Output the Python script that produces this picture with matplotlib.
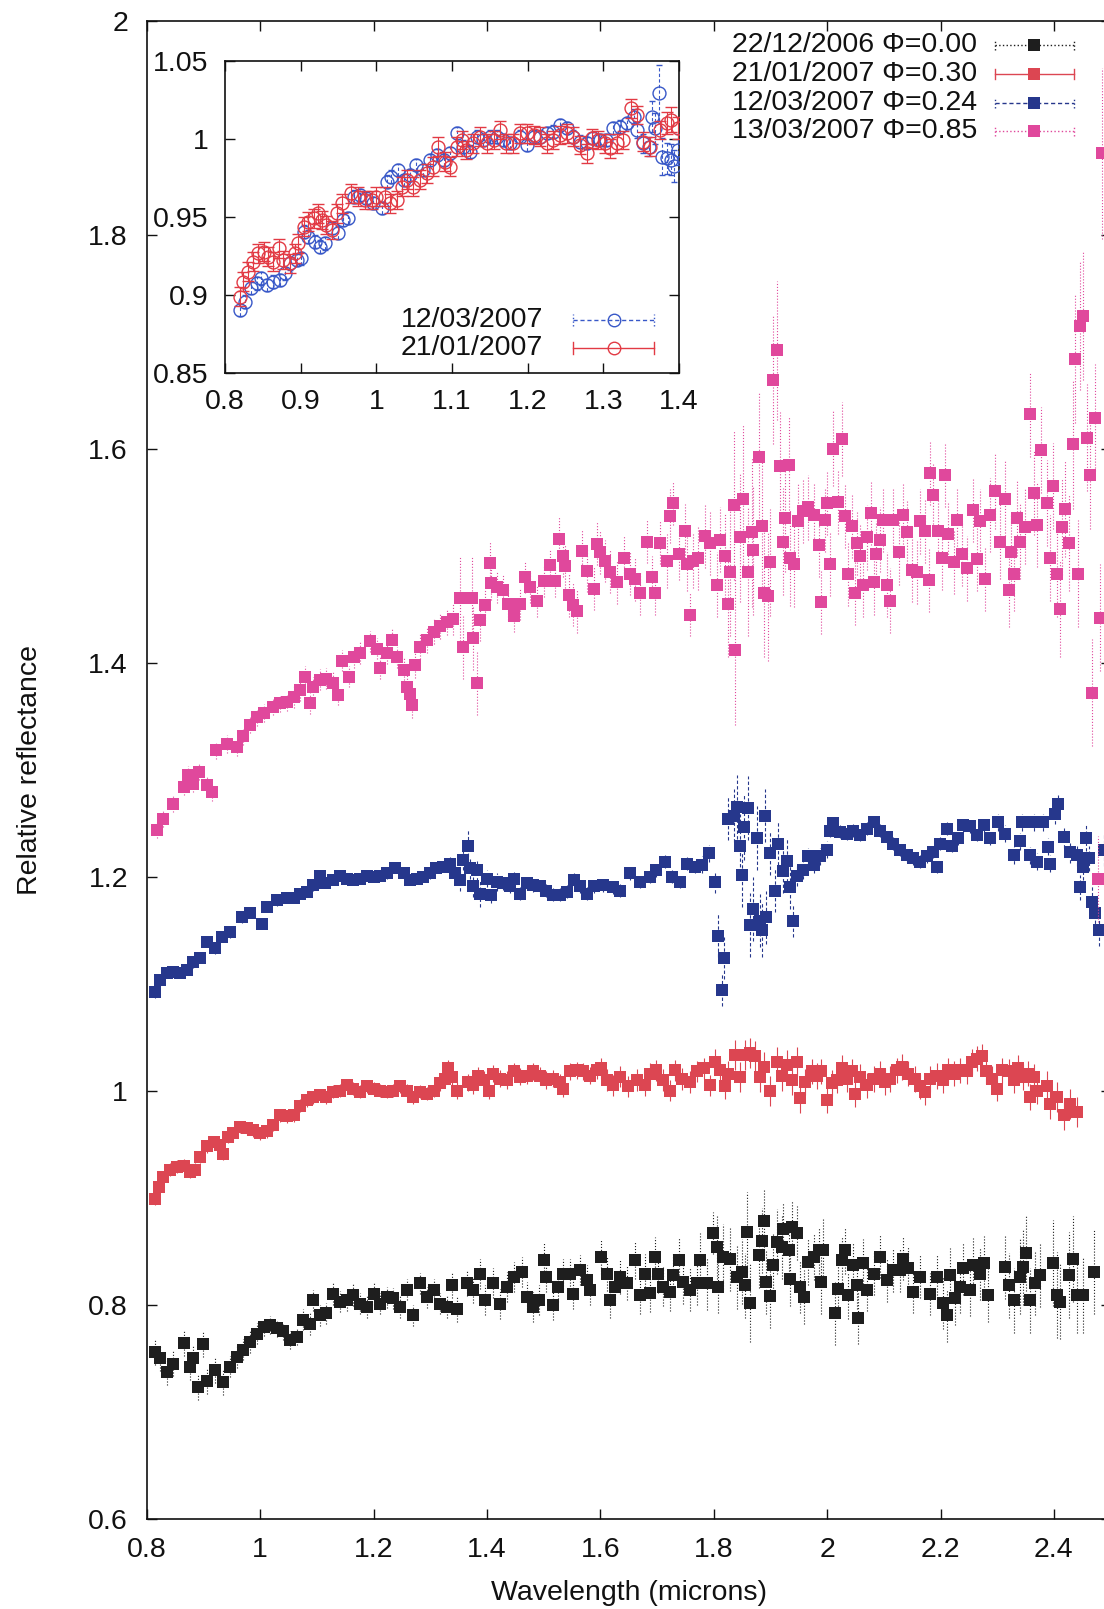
import numpy as np
import matplotlib
matplotlib.use("Agg")
import matplotlib.pyplot as plt
from matplotlib.ticker import FormatStrFormatter

plt.rcParams['font.family'] = ['Liberation Sans', 'DejaVu Sans']

# === DATI (wavelength, reflectance, error) ===

black_pts = [
    (0.814, 0.756, 0.012), (0.823, 0.750, 0.012), (0.835, 0.737, 0.012), (0.847, 0.745, 0.012),
    (0.865, 0.764, 0.012), (0.876, 0.742, 0.012), (0.882, 0.750, 0.012), (0.891, 0.723, 0.012),
    (0.900, 0.763, 0.012), (0.906, 0.729, 0.012), (0.920, 0.739, 0.012), (0.935, 0.728, 0.012),
    (0.947, 0.742, 0.010), (0.959, 0.751, 0.010), (0.970, 0.758, 0.010), (0.982, 0.765, 0.010),
    (0.994, 0.773, 0.010), (1.006, 0.779, 0.008), (1.017, 0.781, 0.008), (1.029, 0.778, 0.008),
    (1.041, 0.775, 0.008), (1.053, 0.767, 0.008), (1.065, 0.770, 0.008), (1.076, 0.786, 0.010),
    (1.088, 0.782, 0.010), (1.094, 0.804, 0.010), (1.106, 0.790, 0.010), (1.117, 0.792, 0.010),
    (1.129, 0.810, 0.010), (1.141, 0.803, 0.010), (1.153, 0.804, 0.010), (1.164, 0.809, 0.010),
    (1.176, 0.801, 0.010), (1.188, 0.798, 0.010), (1.200, 0.810, 0.010), (1.211, 0.801, 0.010),
    (1.223, 0.807, 0.010), (1.235, 0.806, 0.010), (1.247, 0.798, 0.010), (1.259, 0.814, 0.010),
    (1.270, 0.790, 0.010), (1.282, 0.820, 0.010), (1.294, 0.807, 0.010), (1.306, 0.814, 0.010),
    (1.317, 0.801, 0.010), (1.329, 0.798, 0.010), (1.338, 0.818, 0.012), (1.347, 0.796, 0.012),
    (1.364, 0.820, 0.012), (1.376, 0.814, 0.012), (1.388, 0.829, 0.014), (1.397, 0.804, 0.014),
    (1.411, 0.820, 0.014), (1.423, 0.801, 0.014), (1.435, 0.817, 0.014), (1.447, 0.826, 0.014),
    (1.461, 0.831, 0.014), (1.470, 0.807, 0.014), (1.482, 0.798, 0.014), (1.491, 0.804, 0.014),
    (1.500, 0.842, 0.016), (1.505, 0.826, 0.014), (1.517, 0.800, 0.014), (1.526, 0.817, 0.014),
    (1.535, 0.829, 0.014), (1.547, 0.829, 0.014), (1.552, 0.810, 0.014), (1.564, 0.832, 0.014),
    (1.576, 0.823, 0.014), (1.582, 0.814, 0.014),
    (1.602, 0.845, 0.016), (1.611, 0.829, 0.016), (1.617, 0.804, 0.016), (1.626, 0.817, 0.016),
    (1.635, 0.826, 0.016), (1.647, 0.820, 0.016), (1.661, 0.842, 0.018), (1.670, 0.809, 0.018),
    (1.679, 0.829, 0.018), (1.688, 0.811, 0.018), (1.696, 0.845, 0.018), (1.702, 0.829, 0.018),
    (1.711, 0.817, 0.018), (1.723, 0.812, 0.018), (1.729, 0.828, 0.020), (1.738, 0.842, 0.020),
    (1.746, 0.821, 0.020), (1.758, 0.814, 0.020), (1.770, 0.820, 0.020), (1.776, 0.842, 0.025),
    (1.788, 0.820, 0.025), (1.799, 0.867, 0.020), (1.805, 0.854, 0.030), (1.808, 0.817, 0.025),
    (1.817, 0.845, 0.030), (1.829, 0.843, 0.030), (1.841, 0.826, 0.030), (1.849, 0.831, 0.030),
    (1.855, 0.818, 0.030), (1.859, 0.868, 0.037), (1.864, 0.802, 0.037), (1.879, 0.846, 0.030),
    (1.885, 0.860, 0.030), (1.889, 0.878, 0.030), (1.893, 0.821, 0.030), (1.899, 0.808, 0.030),
    (1.905, 0.837, 0.030), (1.911, 0.859, 0.030), (1.920, 0.854, 0.030), (1.923, 0.871, 0.025),
    (1.932, 0.851, 0.025), (1.935, 0.824, 0.025), (1.938, 0.873, 0.025), (1.946, 0.867, 0.025),
    (1.952, 0.817, 0.025), (1.959, 0.807, 0.025), (1.967, 0.840, 0.022), (1.976, 0.845, 0.022),
    (1.985, 0.851, 0.022), (1.990, 0.821, 0.030), (1.993, 0.851, 0.030), (2.014, 0.792, 0.030),
    (2.020, 0.815, 0.025), (2.026, 0.842, 0.022), (2.032, 0.851, 0.022), (2.037, 0.809, 0.022),
    (2.046, 0.837, 0.022), (2.052, 0.818, 0.022), (2.055, 0.788, 0.025), (2.064, 0.839, 0.022),
    (2.070, 0.814, 0.020), (2.082, 0.829, 0.020), (2.093, 0.845, 0.020), (2.105, 0.823, 0.020),
    (2.117, 0.832, 0.020), (2.129, 0.832, 0.020), (2.134, 0.843, 0.020), (2.143, 0.834, 0.020),
    (2.152, 0.812, 0.020), (2.164, 0.826, 0.020), (2.182, 0.810, 0.020), (2.193, 0.826, 0.020),
    (2.205, 0.802, 0.025), (2.211, 0.790, 0.025), (2.217, 0.828, 0.025), (2.226, 0.806, 0.025),
    (2.234, 0.817, 0.025), (2.240, 0.834, 0.025), (2.252, 0.814, 0.025), (2.258, 0.837, 0.025),
    (2.270, 0.829, 0.025), (2.276, 0.839, 0.025), (2.284, 0.809, 0.025), (2.314, 0.835, 0.030),
    (2.320, 0.818, 0.030), (2.329, 0.804, 0.030), (2.340, 0.826, 0.035), (2.346, 0.835, 0.035),
    (2.351, 0.848, 0.035), (2.358, 0.804, 0.030), (2.367, 0.820, 0.030), (2.376, 0.828, 0.030),
    (2.399, 0.839, 0.040), (2.405, 0.809, 0.040), (2.411, 0.803, 0.035), (2.426, 0.828, 0.040),
    (2.434, 0.843, 0.040), (2.440, 0.809, 0.035), (2.452, 0.809, 0.035), (2.470, 0.831, 0.040),
]

red_pts = [
    (0.815, 0.899, 0.006), (0.821, 0.910, 0.006), (0.829, 0.919, 0.006), (0.841, 0.926, 0.006),
    (0.853, 0.929, 0.006), (0.865, 0.930, 0.006), (0.876, 0.924, 0.006), (0.885, 0.926, 0.006),
    (0.894, 0.938, 0.006), (0.906, 0.948, 0.006), (0.918, 0.952, 0.006), (0.929, 0.949, 0.006),
    (0.935, 0.941, 0.006), (0.944, 0.957, 0.006), (0.953, 0.960, 0.006), (0.965, 0.966, 0.006),
    (0.976, 0.965, 0.006), (0.988, 0.963, 0.006), (1.000, 0.960, 0.006), (1.012, 0.962, 0.006),
    (1.023, 0.968, 0.006), (1.035, 0.977, 0.006), (1.047, 0.976, 0.006), (1.059, 0.977, 0.006),
    (1.070, 0.986, 0.006), (1.082, 0.991, 0.006), (1.094, 0.994, 0.006), (1.106, 0.996, 0.006),
    (1.117, 0.994, 0.006), (1.129, 0.999, 0.006), (1.141, 1.000, 0.006), (1.153, 1.005, 0.006),
    (1.164, 1.002, 0.006), (1.176, 0.999, 0.006), (1.188, 1.004, 0.006), (1.200, 1.002, 0.006),
    (1.211, 1.000, 0.006), (1.223, 0.999, 0.006), (1.235, 1.000, 0.006), (1.247, 1.004, 0.006),
    (1.259, 1.000, 0.006), (1.270, 0.994, 0.006), (1.282, 0.999, 0.006), (1.294, 0.997, 0.006),
    (1.306, 1.000, 0.006), (1.317, 1.007, 0.007), (1.326, 1.011, 0.007), (1.332, 1.021, 0.008),
    (1.338, 1.013, 0.008), (1.347, 1.000, 0.008), (1.367, 1.008, 0.008), (1.376, 1.005, 0.008),
    (1.385, 1.014, 0.008), (1.394, 1.010, 0.008), (1.403, 1.000, 0.008), (1.411, 1.016, 0.008),
    (1.423, 1.011, 0.008), (1.435, 1.010, 0.008), (1.447, 1.018, 0.008), (1.458, 1.013, 0.008),
    (1.470, 1.014, 0.008), (1.482, 1.018, 0.008), (1.494, 1.014, 0.008), (1.505, 1.010, 0.008),
    (1.517, 1.011, 0.008), (1.529, 1.008, 0.008), (1.535, 1.002, 0.008), (1.547, 1.018, 0.008),
    (1.558, 1.019, 0.008), (1.570, 1.018, 0.008), (1.582, 1.014, 0.008), (1.594, 1.019, 0.008),
    (1.602, 1.021, 0.010), (1.611, 1.010, 0.010), (1.623, 1.005, 0.010), (1.635, 1.013, 0.010),
    (1.649, 1.004, 0.010), (1.664, 1.010, 0.010), (1.679, 1.005, 0.010), (1.688, 1.016, 0.010),
    (1.699, 1.019, 0.010), (1.711, 1.010, 0.010), (1.723, 1.000, 0.010), (1.732, 1.019, 0.010),
    (1.744, 1.011, 0.010), (1.758, 1.008, 0.010), (1.770, 1.018, 0.010), (1.782, 1.021, 0.010),
    (1.794, 1.005, 0.010), (1.802, 1.027, 0.012), (1.811, 1.019, 0.012), (1.820, 1.004, 0.012),
    (1.826, 1.016, 0.012), (1.838, 1.033, 0.014), (1.846, 1.013, 0.014), (1.855, 1.033, 0.014),
    (1.864, 1.035, 0.014), (1.873, 1.032, 0.014), (1.882, 1.013, 0.014), (1.888, 1.022, 0.014),
    (1.899, 1.000, 0.014), (1.911, 1.027, 0.014), (1.920, 1.014, 0.014), (1.929, 1.024, 0.014),
    (1.938, 1.010, 0.014), (1.946, 1.027, 0.014), (1.952, 0.993, 0.014), (1.961, 1.008, 0.012),
    (1.973, 1.018, 0.012), (1.982, 1.014, 0.012), (1.990, 1.018, 0.012), (1.999, 0.991, 0.012),
    (2.008, 1.007, 0.012), (2.017, 1.010, 0.012), (2.026, 1.021, 0.012), (2.035, 1.011, 0.012),
    (2.043, 1.018, 0.012), (2.050, 0.997, 0.012), (2.058, 1.013, 0.012), (2.070, 1.005, 0.012),
    (2.082, 1.011, 0.012), (2.093, 1.016, 0.012), (2.102, 1.008, 0.012), (2.111, 1.011, 0.012),
    (2.123, 1.019, 0.012), (2.132, 1.022, 0.012), (2.143, 1.016, 0.012), (2.155, 1.011, 0.012),
    (2.164, 1.004, 0.012), (2.173, 0.999, 0.012), (2.182, 1.011, 0.012), (2.193, 1.014, 0.012),
    (2.205, 1.010, 0.012), (2.214, 1.019, 0.012), (2.223, 1.016, 0.012), (2.234, 1.019, 0.012),
    (2.246, 1.018, 0.012), (2.255, 1.027, 0.012), (2.264, 1.030, 0.012), (2.273, 1.032, 0.012),
    (2.281, 1.018, 0.012), (2.290, 1.011, 0.012), (2.299, 1.002, 0.012), (2.308, 1.019, 0.012),
    (2.320, 1.018, 0.012), (2.329, 1.010, 0.012), (2.337, 1.021, 0.012), (2.346, 1.013, 0.012),
    (2.355, 1.016, 0.012), (2.358, 0.994, 0.012), (2.364, 1.013, 0.012), (2.370, 1.000, 0.012),
    (2.387, 1.004, 0.014), (2.393, 0.988, 0.014), (2.405, 0.994, 0.014), (2.417, 0.977, 0.014),
    (2.429, 0.988, 0.014), (2.440, 0.980, 0.014),
]

blue_pts = [
    (0.815, 1.092, 0.005), (0.823, 1.103, 0.005), (0.835, 1.110, 0.005), (0.847, 1.111, 0.005),
    (0.859, 1.110, 0.005), (0.871, 1.113, 0.005), (0.882, 1.120, 0.005), (0.894, 1.124, 0.005),
    (0.906, 1.139, 0.005), (0.920, 1.133, 0.005), (0.932, 1.144, 0.005), (0.947, 1.148, 0.005),
    (0.968, 1.162, 0.005), (0.982, 1.166, 0.005), (1.003, 1.156, 0.005), (1.012, 1.172, 0.005),
    (1.029, 1.178, 0.005), (1.047, 1.180, 0.005), (1.059, 1.180, 0.005), (1.070, 1.184, 0.005),
    (1.082, 1.186, 0.005), (1.094, 1.192, 0.005), (1.106, 1.201, 0.005), (1.114, 1.194, 0.005),
    (1.129, 1.197, 0.005), (1.141, 1.201, 0.005), (1.153, 1.198, 0.005), (1.164, 1.197, 0.005),
    (1.176, 1.198, 0.005), (1.188, 1.201, 0.005), (1.200, 1.200, 0.005), (1.211, 1.201, 0.005),
    (1.223, 1.203, 0.005), (1.238, 1.208, 0.005), (1.253, 1.203, 0.005), (1.264, 1.197, 0.005),
    (1.276, 1.198, 0.005), (1.288, 1.200, 0.005), (1.300, 1.203, 0.005), (1.311, 1.208, 0.005),
    (1.323, 1.209, 0.005), (1.335, 1.212, 0.006), (1.344, 1.203, 0.008), (1.353, 1.197, 0.010),
    (1.358, 1.216, 0.010), (1.367, 1.229, 0.015), (1.370, 1.208, 0.010), (1.376, 1.191, 0.010),
    (1.382, 1.206, 0.010), (1.388, 1.184, 0.012), (1.400, 1.198, 0.008), (1.408, 1.183, 0.008),
    (1.417, 1.195, 0.008), (1.429, 1.194, 0.006), (1.441, 1.191, 0.006), (1.447, 1.198, 0.006),
    (1.458, 1.184, 0.006), (1.470, 1.194, 0.006), (1.482, 1.192, 0.006), (1.494, 1.191, 0.006),
    (1.505, 1.187, 0.006), (1.517, 1.183, 0.006), (1.529, 1.183, 0.006), (1.541, 1.186, 0.006),
    (1.553, 1.197, 0.006), (1.564, 1.191, 0.006), (1.576, 1.184, 0.006), (1.588, 1.191, 0.006),
    (1.605, 1.192, 0.006), (1.623, 1.190, 0.006), (1.635, 1.187, 0.006), (1.652, 1.203, 0.006),
    (1.670, 1.195, 0.006), (1.688, 1.200, 0.006), (1.699, 1.206, 0.006), (1.714, 1.214, 0.006),
    (1.726, 1.200, 0.006), (1.741, 1.195, 0.006), (1.752, 1.212, 0.006), (1.767, 1.209, 0.006),
    (1.779, 1.211, 0.008), (1.791, 1.222, 0.008), (1.802, 1.195, 0.010), (1.808, 1.145, 0.020),
    (1.814, 1.094, 0.015), (1.818, 1.124, 0.020), (1.826, 1.254, 0.020), (1.835, 1.257, 0.025),
    (1.841, 1.265, 0.030), (1.846, 1.229, 0.030), (1.849, 1.202, 0.030), (1.853, 1.246, 0.030),
    (1.861, 1.264, 0.030), (1.864, 1.155, 0.030), (1.870, 1.170, 0.030), (1.876, 1.236, 0.030),
    (1.882, 1.159, 0.025), (1.885, 1.150, 0.025), (1.891, 1.257, 0.025), (1.893, 1.162, 0.025),
    (1.899, 1.222, 0.020), (1.908, 1.187, 0.020), (1.914, 1.231, 0.020), (1.923, 1.205, 0.020),
    (1.929, 1.215, 0.020), (1.935, 1.190, 0.020), (1.939, 1.159, 0.015), (1.946, 1.201, 0.010),
    (1.958, 1.206, 0.008), (1.967, 1.219, 0.008), (1.976, 1.211, 0.008), (1.987, 1.219, 0.008),
    (1.999, 1.225, 0.008), (2.005, 1.243, 0.006), (2.011, 1.250, 0.006), (2.023, 1.242, 0.006),
    (2.035, 1.240, 0.006), (2.046, 1.243, 0.006), (2.058, 1.239, 0.006), (2.070, 1.245, 0.006),
    (2.082, 1.251, 0.006), (2.093, 1.243, 0.006), (2.105, 1.237, 0.006), (2.117, 1.231, 0.006),
    (2.129, 1.225, 0.006), (2.140, 1.220, 0.006), (2.152, 1.217, 0.006), (2.164, 1.214, 0.006),
    (2.176, 1.219, 0.006), (2.187, 1.223, 0.006), (2.193, 1.209, 0.006), (2.199, 1.231, 0.006),
    (2.211, 1.245, 0.006), (2.220, 1.229, 0.006), (2.231, 1.236, 0.006), (2.240, 1.248, 0.006),
    (2.252, 1.247, 0.006), (2.264, 1.239, 0.006), (2.276, 1.248, 0.006), (2.287, 1.236, 0.006),
    (2.302, 1.251, 0.008), (2.314, 1.240, 0.008), (2.329, 1.220, 0.008), (2.340, 1.233, 0.008),
    (2.343, 1.251, 0.008), (2.358, 1.220, 0.008), (2.364, 1.251, 0.008), (2.370, 1.214, 0.008),
    (2.381, 1.251, 0.008), (2.390, 1.228, 0.008), (2.393, 1.212, 0.008), (2.402, 1.259, 0.010),
    (2.408, 1.268, 0.010), (2.417, 1.237, 0.010), (2.428, 1.223, 0.010), (2.440, 1.220, 0.010),
    (2.446, 1.190, 0.012), (2.452, 1.209, 0.012), (2.457, 1.236, 0.012), (2.461, 1.217, 0.012),
    (2.467, 1.176, 0.015), (2.473, 1.166, 0.015), (2.480, 1.150, 0.015), (2.488, 1.225, 0.015),
]

pink_pts = [
    (0.818, 1.244, 0.008), (0.829, 1.254, 0.008), (0.847, 1.268, 0.008), (0.865, 1.284, 0.008),
    (0.872, 1.295, 0.008), (0.882, 1.287, 0.008), (0.893, 1.298, 0.008), (0.906, 1.286, 0.008),
    (0.915, 1.279, 0.008), (0.923, 1.318, 0.008), (0.941, 1.324, 0.008), (0.959, 1.321, 0.008),
    (0.970, 1.331, 0.008), (0.982, 1.342, 0.008), (0.994, 1.349, 0.008), (1.006, 1.353, 0.008),
    (1.023, 1.359, 0.008), (1.035, 1.362, 0.008), (1.047, 1.363, 0.008), (1.059, 1.368, 0.010),
    (1.070, 1.374, 0.010), (1.079, 1.387, 0.010), (1.088, 1.362, 0.010), (1.094, 1.377, 0.010),
    (1.106, 1.384, 0.010), (1.117, 1.385, 0.010), (1.129, 1.381, 0.010), (1.138, 1.370, 0.010),
    (1.144, 1.402, 0.010), (1.156, 1.387, 0.010), (1.165, 1.405, 0.010), (1.176, 1.409, 0.010),
    (1.194, 1.420, 0.010), (1.206, 1.413, 0.010), (1.212, 1.395, 0.010), (1.223, 1.409, 0.010),
    (1.232, 1.421, 0.010), (1.241, 1.405, 0.010), (1.253, 1.393, 0.012), (1.259, 1.377, 0.012),
    (1.264, 1.371, 0.012), (1.267, 1.360, 0.012), (1.273, 1.398, 0.012), (1.282, 1.415, 0.012),
    (1.294, 1.421, 0.012), (1.306, 1.429, 0.012), (1.317, 1.434, 0.012), (1.329, 1.438, 0.012),
    (1.341, 1.441, 0.015), (1.353, 1.460, 0.040), (1.358, 1.415, 0.030), (1.373, 1.460, 0.040),
    (1.376, 1.423, 0.030), (1.382, 1.381, 0.030), (1.388, 1.440, 0.020), (1.397, 1.454, 0.015),
    (1.405, 1.493, 0.020), (1.408, 1.474, 0.015), (1.417, 1.471, 0.015), (1.429, 1.468, 0.015),
    (1.438, 1.455, 0.015), (1.447, 1.444, 0.015), (1.458, 1.455, 0.015), (1.467, 1.480, 0.015),
    (1.476, 1.471, 0.015), (1.488, 1.458, 0.015), (1.500, 1.476, 0.015), (1.511, 1.491, 0.015),
    (1.520, 1.476, 0.015), (1.527, 1.516, 0.020), (1.534, 1.500, 0.020), (1.538, 1.490, 0.020),
    (1.544, 1.463, 0.020), (1.552, 1.454, 0.020), (1.558, 1.448, 0.020), (1.567, 1.504, 0.020),
    (1.576, 1.486, 0.020), (1.588, 1.469, 0.020), (1.594, 1.511, 0.020),
    (1.600, 1.503, 0.020), (1.608, 1.495, 0.020), (1.617, 1.485, 0.020), (1.629, 1.475, 0.020),
    (1.641, 1.498, 0.020), (1.652, 1.483, 0.020), (1.661, 1.478, 0.020), (1.670, 1.465, 0.020),
    (1.682, 1.513, 0.020), (1.691, 1.480, 0.020), (1.697, 1.465, 0.020), (1.705, 1.512, 0.020),
    (1.717, 1.495, 0.025), (1.723, 1.537, 0.025), (1.729, 1.549, 0.020), (1.738, 1.502, 0.025),
    (1.749, 1.523, 0.025), (1.752, 1.492, 0.025), (1.758, 1.445, 0.020), (1.764, 1.495, 0.025),
    (1.773, 1.498, 0.030), (1.785, 1.518, 0.030), (1.793, 1.512, 0.030), (1.805, 1.473, 0.030),
    (1.811, 1.515, 0.030), (1.820, 1.500, 0.040), (1.826, 1.455, 0.050), (1.829, 1.485, 0.060),
    (1.835, 1.547, 0.070), (1.838, 1.412, 0.070), (1.846, 1.517, 0.060), (1.851, 1.553, 0.070),
    (1.861, 1.485, 0.060), (1.867, 1.522, 0.070), (1.870, 1.505, 0.060), (1.880, 1.592, 0.060),
    (1.885, 1.528, 0.060), (1.888, 1.465, 0.060), (1.896, 1.462, 0.060), (1.900, 1.494, 0.050),
    (1.905, 1.664, 0.060), (1.911, 1.692, 0.065), (1.917, 1.584, 0.050), (1.922, 1.513, 0.050),
    (1.926, 1.535, 0.050), (1.932, 1.585, 0.045), (1.935, 1.498, 0.045), (1.941, 1.492, 0.040),
    (1.949, 1.532, 0.035), (1.958, 1.542, 0.030), (1.967, 1.545, 0.030), (1.976, 1.538, 0.030),
    (1.985, 1.510, 0.030), (1.990, 1.457, 0.030), (1.996, 1.533, 0.030), (1.999, 1.549, 0.030),
    (2.005, 1.492, 0.030), (2.011, 1.600, 0.035), (2.020, 1.550, 0.030), (2.026, 1.609, 0.035),
    (2.032, 1.537, 0.030), (2.037, 1.483, 0.030), (2.043, 1.528, 0.030), (2.049, 1.465, 0.030),
    (2.052, 1.512, 0.030), (2.058, 1.500, 0.030), (2.064, 1.473, 0.030), (2.070, 1.517, 0.030),
    (2.077, 1.540, 0.030), (2.082, 1.475, 0.030), (2.087, 1.502, 0.030), (2.093, 1.515, 0.030),
    (2.099, 1.533, 0.030), (2.105, 1.473, 0.030), (2.111, 1.458, 0.030), (2.117, 1.533, 0.030),
    (2.126, 1.503, 0.030), (2.134, 1.538, 0.030), (2.140, 1.522, 0.030), (2.149, 1.487, 0.030),
    (2.158, 1.485, 0.030), (2.164, 1.532, 0.030), (2.173, 1.523, 0.030), (2.179, 1.477, 0.030),
    (2.182, 1.577, 0.030), (2.187, 1.557, 0.030), (2.196, 1.523, 0.030), (2.202, 1.498, 0.030),
    (2.208, 1.575, 0.030), (2.214, 1.520, 0.030), (2.223, 1.494, 0.030), (2.229, 1.533, 0.030),
    (2.237, 1.502, 0.030), (2.246, 1.488, 0.030), (2.258, 1.543, 0.030), (2.264, 1.497, 0.030),
    (2.270, 1.532, 0.030), (2.278, 1.478, 0.030), (2.287, 1.538, 0.035), (2.296, 1.560, 0.035),
    (2.305, 1.513, 0.035), (2.314, 1.553, 0.035), (2.320, 1.468, 0.035), (2.324, 1.503, 0.035),
    (2.329, 1.483, 0.035), (2.334, 1.535, 0.035), (2.341, 1.513, 0.035), (2.349, 1.527, 0.035),
    (2.358, 1.632, 0.040), (2.364, 1.559, 0.040), (2.370, 1.529, 0.040), (2.378, 1.599, 0.040),
    (2.387, 1.549, 0.040), (2.393, 1.498, 0.040), (2.399, 1.565, 0.040), (2.405, 1.483, 0.040),
    (2.411, 1.450, 0.045), (2.414, 1.527, 0.045), (2.420, 1.544, 0.045), (2.426, 1.512, 0.045),
    (2.433, 1.604, 0.060), (2.437, 1.684, 0.060), (2.443, 1.483, 0.050), (2.446, 1.715, 0.060),
    (2.452, 1.724, 0.060), (2.458, 1.610, 0.050), (2.463, 1.575, 0.050), (2.467, 1.372, 0.050),
    (2.472, 1.629, 0.050), (2.478, 1.198, 0.040), (2.481, 1.442, 0.050), (2.484, 1.876, 0.080),
]

# inset: zoom sul range 0.8-1.4
inset_blue_pts = [
    (0.820, 0.8902, 0.004), (0.826, 0.8956, 0.004), (0.835, 0.9041, 0.004), (0.842, 0.9073, 0.004),
    (0.848, 0.9105, 0.004), (0.855, 0.9063, 0.004), (0.864, 0.9084, 0.004), (0.873, 0.9095, 0.004),
    (0.879, 0.9137, 0.004), (0.886, 0.9201, 0.004), (0.895, 0.9223, 0.004), (0.901, 0.9233, 0.004),
    (0.904, 0.9404, 0.004), (0.910, 0.9372, 0.004), (0.919, 0.9340, 0.004), (0.926, 0.9308, 0.004),
    (0.932, 0.9329, 0.004), (0.941, 0.9426, 0.004), (0.950, 0.9398, 0.004), (0.956, 0.9479, 0.004),
    (0.963, 0.9490, 0.004), (0.970, 0.9629, 0.004), (0.978, 0.9639, 0.004), (0.987, 0.9618, 0.004),
    (0.996, 0.9586, 0.004), (1.007, 0.9554, 0.004), (1.014, 0.9725, 0.004), (1.020, 0.9757, 0.004),
    (1.029, 0.9800, 0.004), (1.036, 0.9736, 0.004), (1.045, 0.9768, 0.004), (1.053, 0.9832, 0.004),
    (1.062, 0.9800, 0.004), (1.071, 0.9864, 0.004), (1.080, 0.9896, 0.004), (1.089, 0.9864, 0.004),
    (1.097, 0.9906, 0.004), (1.106, 1.0035, 0.004), (1.115, 0.9949, 0.004), (1.124, 0.9917, 0.004),
    (1.133, 1.0013, 0.004), (1.141, 0.9992, 0.004), (1.150, 1.0013, 0.004), (1.159, 1.0013, 0.004),
    (1.168, 0.9992, 0.004), (1.177, 0.9971, 0.004), (1.190, 1.0013, 0.004), (1.199, 0.9960, 0.004),
    (1.208, 1.0013, 0.004), (1.216, 1.0013, 0.004), (1.225, 1.0035, 0.004), (1.234, 1.0045, 0.004),
    (1.243, 1.0088, 0.004), (1.252, 1.0067, 0.004), (1.260, 1.0013, 0.004), (1.269, 0.9981, 0.004),
    (1.278, 0.9971, 0.004), (1.287, 1.0003, 0.004), (1.296, 0.9992, 0.004), (1.304, 0.9992, 0.004),
    (1.313, 1.0067, 0.004), (1.322, 1.0077, 0.004), (1.331, 1.0099, 0.004), (1.340, 1.0141, 0.005),
    (1.344, 1.0056, 0.005), (1.353, 0.9971, 0.006), (1.360, 0.9949, 0.006), (1.364, 1.0141, 0.010),
    (1.368, 1.0067, 0.010), (1.374, 1.0291, 0.018), (1.377, 0.9885, 0.012), (1.384, 0.9874, 0.010),
    (1.390, 0.9864, 0.010), (1.393, 0.9825, 0.010), (1.399, 0.9928, 0.010),
]

inset_red_pts = [
    (0.820, 0.8988, 0.006), (0.824, 0.9084, 0.006), (0.831, 0.9148, 0.006), (0.837, 0.9212, 0.006),
    (0.844, 0.9266, 0.006), (0.851, 0.9276, 0.006), (0.857, 0.9244, 0.006), (0.864, 0.9212, 0.006),
    (0.871, 0.9298, 0.006), (0.877, 0.9223, 0.006), (0.886, 0.9201, 0.006), (0.893, 0.9266, 0.006),
    (0.897, 0.9329, 0.006), (0.904, 0.9436, 0.006), (0.910, 0.9468, 0.006), (0.917, 0.9490, 0.006),
    (0.923, 0.9522, 0.006), (0.928, 0.9479, 0.006), (0.934, 0.9447, 0.006), (0.941, 0.9415, 0.006),
    (0.948, 0.9522, 0.006), (0.954, 0.9586, 0.006), (0.967, 0.9650, 0.006), (0.976, 0.9629, 0.006),
    (0.985, 0.9607, 0.006), (0.994, 0.9607, 0.006), (1.000, 0.9629, 0.006), (1.011, 0.9629, 0.006),
    (1.018, 0.9586, 0.006), (1.027, 0.9607, 0.006), (1.034, 0.9693, 0.006), (1.040, 0.9736, 0.006),
    (1.049, 0.9693, 0.006), (1.058, 0.9736, 0.006), (1.067, 0.9778, 0.006), (1.075, 0.9821, 0.006),
    (1.082, 0.9949, 0.006), (1.091, 0.9853, 0.006), (1.097, 0.9821, 0.006), (1.106, 0.9949, 0.006),
    (1.113, 0.9992, 0.006), (1.119, 0.9928, 0.006), (1.128, 0.9971, 0.006), (1.137, 1.0013, 0.006),
    (1.146, 0.9971, 0.006), (1.155, 0.9992, 0.006), (1.163, 1.0056, 0.006), (1.172, 0.9971, 0.006),
    (1.181, 0.9971, 0.006), (1.190, 1.0035, 0.006), (1.199, 1.0035, 0.006), (1.208, 1.0024, 0.006),
    (1.216, 1.0013, 0.006), (1.225, 0.9971, 0.006), (1.234, 0.9992, 0.006), (1.243, 1.0024, 0.006),
    (1.252, 1.0035, 0.006), (1.260, 1.0013, 0.006), (1.269, 0.9960, 0.006), (1.278, 0.9906, 0.006),
    (1.285, 1.0003, 0.006), (1.293, 0.9992, 0.006), (1.302, 0.9971, 0.006), (1.309, 0.9939, 0.006),
    (1.318, 0.9971, 0.006), (1.326, 0.9992, 0.006), (1.337, 1.0195, 0.006), (1.344, 1.0152, 0.006),
    (1.353, 0.9981, 0.006), (1.362, 0.9949, 0.006), (1.375, 1.0056, 0.006), (1.384, 1.0099, 0.007),
    (1.390, 1.0120, 0.008), (1.399, 1.0067, 0.007),
]

main_labels = ['22/12/2006 \u03a6=0.00', '21/01/2007 \u03a6=0.30',
               '12/03/2007 \u03a6=0.24', '13/03/2007 \u03a6=0.85']
inset_labels = ['12/03/2007', '21/01/2007']
main_xticks = [0.8, 1.0, 1.2, 1.4, 1.6, 1.8, 2.0, 2.2, 2.4]
main_yticks = [0.6, 0.8, 1.0, 1.2, 1.4, 1.6, 1.8, 2.0]
inset_xticks = [0.8, 0.9, 1.0, 1.1, 1.2, 1.3, 1.4]
inset_yticks = [0.85, 0.9, 0.95, 1.0, 1.05]

# === STILI ===
FS = 20.5
MS = 9.3
C_BLACK = '#1e1e1e'
C_RED = '#dc4652'
C_BLUE = '#26378c'
C_PINK = '#e0489c'
C_IBLUE = '#3858c8'
C_IRED = '#e23a44'


def draw_series(ax, pts, color, ls, capsize, marker='s', ms=MS, mfc=None, z=2):
    wl, r, e = np.array(pts).T
    eb = ax.errorbar(wl, r, yerr=e, fmt=marker, color=color, ms=ms,
                     mfc=color if mfc is None else mfc, mec=color,
                     mew=0 if mfc is None else 1.0, elinewidth=0.8,
                     capsize=capsize, capthick=0.8, zorder=z)
    eb[2][0].set_linestyle(ls)
    return eb


def key_row(ax, y, label, color, ls, xt, x0, x1, marker, mfc, ms, capfrac, lw=1.0):
    ax.text(xt, y, label, transform=ax.transAxes, ha='right', va='center',
            fontsize=FS, color='#111111')
    ax.plot([x0, x1], [y, y], transform=ax.transAxes, color=color, ls=ls, lw=lw,
            clip_on=False, zorder=5)
    for xc in (x0, x1):
        ax.plot([xc, xc], [y - capfrac, y + capfrac], transform=ax.transAxes,
                color=color, ls='-' if ls == '-' else ':', lw=lw, clip_on=False, zorder=5)
    ax.plot([(x0 + x1) / 2], [y], transform=ax.transAxes, marker=marker, ms=ms,
            color=color, mfc=mfc, mec=color, mew=0 if mfc == color else 1.0,
            clip_on=False, zorder=6, ls='none')


def style_axes(ax, pad):
    ax.tick_params(direction='in', top=True, right=True, length=7, width=1.0,
                   labelsize=FS, pad=pad, colors='#111111')
    for s in ax.spines.values():
        s.set_linewidth(1.2)
        s.set_color('#111111')


fig = plt.figure(figsize=(11.04, 16.09), dpi=100)

# === GRAFICO PRINCIPALE ===
ax = fig.add_axes([0.1329, 0.0561, 0.8731, 0.9311])
draw_series(ax, black_pts, C_BLACK, ':', 2.5, z=2)
draw_series(ax, red_pts, C_RED, '-', 4, z=3)
draw_series(ax, blue_pts, C_BLUE, (0, (3, 2)), 2.5, z=4)
draw_series(ax, pink_pts, C_PINK, ':', 2.5, z=5)

ax.set_xlim(0.8, 2.5)
ax.set_ylim(0.6, 2.0)
ax.set_xticks(main_xticks)
ax.set_yticks(main_yticks)
ax.xaxis.set_major_formatter(FormatStrFormatter('%g'))
ax.yaxis.set_major_formatter(FormatStrFormatter('%g'))
style_axes(ax, 13.5)
ax.set_xlabel('Wavelength (microns)', fontsize=FS, color='#111111')
ax.set_ylabel('Relative reflectance', fontsize=FS, color='#111111')
ax.xaxis.set_label_coords(0.5, -0.041)
ax.yaxis.set_label_coords(-0.108, 0.5)

# legenda (disegnata a mano, stile gnuplot)
key_y = [0.9836, 0.9643, 0.9449, 0.9262]
key_col = [C_BLACK, C_RED, C_BLUE, C_PINK]
key_ls = [':', '-', (0, (3, 2)), ':']
for yk, lab, c, ls in zip(key_y, main_labels, key_col, key_ls):
    key_row(ax, yk, lab, c, ls, 0.8614, 0.880, 0.962, 's', c, 8.6, 0.0035)

# === INSET ===
axi = fig.add_axes([0.2038, 0.7684, 0.4112, 0.1939])
axi.set_facecolor('white')
draw_series(axi, inset_blue_pts, C_IBLUE, (0, (3, 2)), 2.5, marker='o', ms=9.3, mfc='none', z=3)
draw_series(axi, inset_red_pts, C_IRED, '-', 4, marker='o', ms=9.3, mfc='none', z=4)
axi.set_xlim(0.8, 1.4)
axi.set_ylim(0.85, 1.05)
axi.set_xticks(inset_xticks)
axi.set_yticks(inset_yticks)
axi.xaxis.set_major_formatter(FormatStrFormatter('%g'))
axi.yaxis.set_major_formatter(FormatStrFormatter('%g'))
style_axes(axi, 12)

ikey_y = [0.169, 0.079]
for yk, lab, c, ls in zip(ikey_y, inset_labels, [C_IBLUE, C_IRED], [(0, (3, 2)), '-']):
    key_row(axi, yk, lab, c, ls, 0.700, 0.767, 0.945, 'o', 'none', 9, 0.018)

fig.savefig('out.png', dpi=100)
